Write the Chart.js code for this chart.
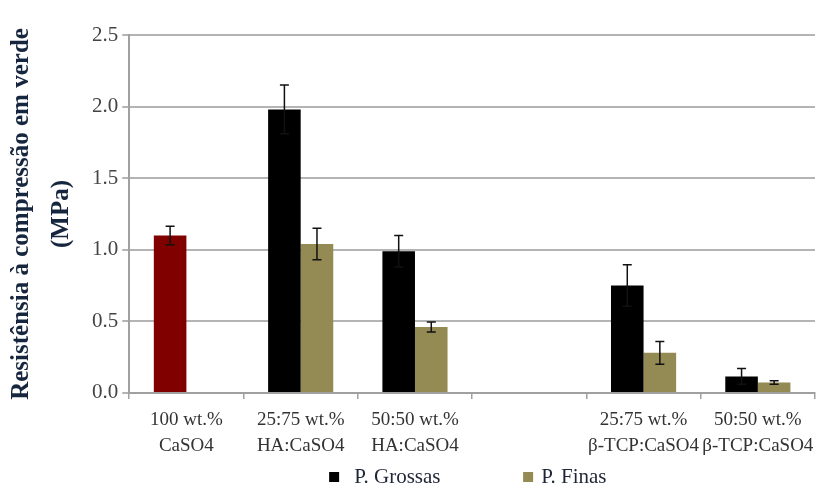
<!DOCTYPE html>
<html>
<head>
<meta charset="utf-8">
<script src="https://cdn.jsdelivr.net/npm/chart.js@4/dist/chart.umd.min.js"></script>
<style>
  html, body { margin: 0; padding: 0; background: #fff; }
  #wrap { width: 837px; height: 487px; }
</style>
</head>
<body>
<div id="wrap"><canvas id="chartBar"></canvas></div>
<script>
const categories = [
    ['100 wt.%', 'CaSO4'],
    ['25:75 wt.%', 'HA:CaSO4'],
    ['50:50 wt.%', 'HA:CaSO4'],
    '',
    ['25:75 wt.%', 'β-TCP:CaSO4'],
    ['50:50 wt.%', 'β-TCP:CaSO4']
];
const grossas = [1.10, 1.98, 0.99, null, 0.75, 0.115];
const grossasErr = [0.065, 0.17, 0.11, null, 0.145, 0.055];
const finas = [null, 1.04, 0.46, null, 0.28, 0.073];
const finasErr = [null, 0.11, 0.035, null, 0.08, 0.013];
const yTicks = [0, 0.5, 1.0, 1.5, 2.0, 2.5];
const seriesNames = ['P. Grossas', 'P. Finas'];
const seriesColors = ['#000000', '#948a54'];

const errorBars = {
    id: 'errorBars',
    afterDatasetsDraw(chart) {
        const ctx = chart.ctx;
        const y = chart.scales.y;
        const errs = [grossasErr, finasErr];
        ctx.save();
        ctx.strokeStyle = '#111';
        ctx.lineWidth = 1.5;
        chart.data.datasets.forEach((ds, i) => {
            const meta = chart.getDatasetMeta(i);
            meta.data.forEach((bar, j) => {
                const v = ds.data[j];
                const e = errs[i][j];
                if (v == null || e == null) return;
                const top = y.getPixelForValue(v + e);
                const bot = y.getPixelForValue(v - e);
                ctx.beginPath();
                ctx.moveTo(bar.x, top);
                ctx.lineTo(bar.x, bot);
                ctx.moveTo(bar.x - 4.5, top);
                ctx.lineTo(bar.x + 4.5, top);
                ctx.moveTo(bar.x - 4.5, bot);
                ctx.lineTo(bar.x + 4.5, bot);
                ctx.stroke();
            });
        });
        ctx.restore();
    }
};

// legend drawn by hand so the items can sit far apart
const bottomLegend = {
    id: 'bottomLegend',
    afterDraw(chart) {
        const ctx = chart.ctx;
        const area = chart.chartArea;
        const mid = (area.left + area.right) / 2;
        const offsets = [-143, 51];
        const yc = 477;
        ctx.save();
        ctx.font = '21px "Liberation Serif"';
        ctx.textBaseline = 'middle';
        seriesNames.forEach((name, i) => {
            const x = mid + offsets[i];
            ctx.fillStyle = seriesColors[i];
            ctx.fillRect(x, yc - 5, 10, 10);
            ctx.fillStyle = '#1e2536';
            ctx.fillText(name, x + (i === 0 ? 25 : 18), yc);
        });
        ctx.restore();
    }
};

const chartBar = new Chart(document.getElementById('chartBar'), {
    type: 'bar',
    data: {
        labels: categories,
        datasets: [
            {
                label: seriesNames[0],
                data: grossas,
                backgroundColor: ['#800000', '#000', '#000', '#000', '#000', '#000'],
                borderWidth: 0,
            },
            {
                label: seriesNames[1],
                data: finas,
                backgroundColor: seriesColors[1],
                borderWidth: 0,
            }
        ]
    },
    options: {
        responsive: true,
        maintainAspectRatio: false,
        animation: false,
        layout: {
            padding: { top: 35, right: 22, left: 2, bottom: 20 }
        },
        datasets: {
            bar: { categoryPercentage: 0.57, barPercentage: 1.0 }
        },
        plugins: {
            legend: { display: false },
            tooltip: { enabled: false }
        },
        scales: {
            x: {
                grid: {
                    offset: true,
                    drawOnChartArea: false,
                    color: '#a0a0a0',
                    lineWidth: 1.5,
                    tickLength: 6
                },
                border: { color: '#a0a0a0', width: 2 },
                ticks: {
                    color: '#333',
                    maxRotation: 0,
                    autoSkip: false,
                    padding: 8,
                    font: { family: 'Liberation Serif', size: 19, lineHeight: 1.37 }
                }
            },
            y: {
                min: 0,
                max: 2.5,
                afterBuildTicks: (axis) => { axis.ticks = yTicks.map(v => ({ value: v })); },
                grid: {
                    color: '#b4b4b4',
                    lineWidth: 2,
                    tickLength: 7
                },
                border: { color: '#a0a0a0', width: 2 },
                ticks: {
                    color: '#444',
                    padding: 4,
                    callback: (v) => v.toFixed(1),
                    font: { family: 'Liberation Serif', size: 21 }
                },
                title: {
                    display: true,
                    text: ['Resistênsia à compressão em verde', '(MPa)'],
                    color: '#17263f',
                    padding: { top: 0, bottom: 6 },
                    font: { family: 'Liberation Serif', size: 25, weight: 'bold', lineHeight: 1.6 }
                }
            }
        }
    },
    plugins: [errorBars, bottomLegend]
});
</script>
</body>
</html>
